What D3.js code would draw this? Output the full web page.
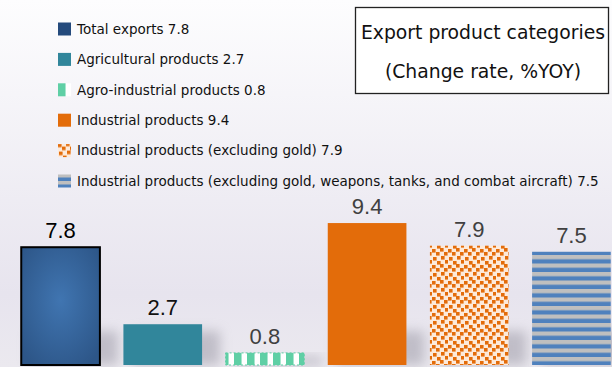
<!DOCTYPE html>
<html>
<head>
<meta charset="utf-8">
<script src="https://cdn.jsdelivr.net/npm/d3@7"></script>
<style>
  body { margin: 0; background: #fff; }
  svg { display: block; }
</style>
</head>
<body>
<div id="container"></div>
<script>
let w = 612;
let h = 367;

// data
let categories = [
  "Total exports",
  "Agricultural products",
  "Agro-industrial products",
  "Industrial products",
  "Industrial products (excluding gold)",
  "Industrial products (excluding gold, weapons, tanks, and combat aircraft)"
];
let values = [7.8, 2.7, 0.8, 9.4, 7.9, 7.5];
let titleLines = ["Export product categories", "(Change rate, %YOY)"];

let fills = ["url(#gradTotal)", "#31869b", "url(#patAgro)", "#e36c0a", "url(#patConfetti)", "url(#patStripes)"];
let swatchFills = ["#244a7c", "#31869b", "url(#patAgroSw)", "#e36c0a", "url(#patConfettiSw)", "url(#patStripesSw)"];
let labelColors = ["#000", "#111", "#404040", "#404040", "#404040", "#404040"];

let data = categories.map(function(c, i){
  return { name: c, value: values[i], fill: fills[i], swatch: swatchFills[i], labelColor: labelColors[i] };
});

let viz = d3.select("#container")
  .append("svg")
    .attr("width", w)
    .attr("height", h)
;

let defs = viz.append("defs");

// background gradient
let bg = defs.append("linearGradient").attr("id", "bgGrad")
  .attr("x1", 0).attr("y1", 0).attr("x2", 0).attr("y2", 1);
bg.append("stop").attr("offset", "0%").attr("stop-color", "#fdfdfe");
bg.append("stop").attr("offset", "80%").attr("stop-color", "#e7e4ee");
bg.append("stop").attr("offset", "100%").attr("stop-color", "#ebe9ef");

// total exports bar gradient
let rg = defs.append("radialGradient").attr("id", "gradTotal")
  .attr("cx", "50%").attr("cy", "45%").attr("r", "65%");
rg.append("stop").attr("offset", "0%").attr("stop-color", "#4075b1");
rg.append("stop").attr("offset", "100%").attr("stop-color", "#2d5688");

// agro-industrial pattern: teal blocks with white gaps
function agroPattern(id, pw, ph){
  let p = defs.append("pattern").attr("id", id)
    .attr("patternUnits", "userSpaceOnUse")
    .attr("width", pw).attr("height", ph);
  p.append("rect").attr("width", pw).attr("height", ph).attr("fill", "#ffffff");
  p.append("rect").attr("x", 0).attr("width", pw * 0.58).attr("height", ph).attr("fill", "#5fcfa5");
}
agroPattern("patAgro", 13, 40);
agroPattern("patAgroSw", 13, 40);

// confetti pattern: scattered orange squares on peach
let confetti = [[1,1],[9,0],[5,5],[13,4],[0,9],[8,8],[4,12],[12,12]];
function confettiPattern(id){
  let p = defs.append("pattern").attr("id", id)
    .attr("patternUnits", "userSpaceOnUse")
    .attr("width", 16).attr("height", 16);
  p.append("rect").attr("width", 16).attr("height", 16).attr("fill", "#fdeada");
  p.selectAll("rect.sq").data(confetti).enter()
    .append("rect").attr("class", "sq")
    .attr("x", function(d){ return d[0]; })
    .attr("y", function(d){ return d[1]; })
    .attr("width", 3.6).attr("height", 3.6)
    .attr("fill", "#e36c0a");
}
confettiPattern("patConfetti");
confettiPattern("patConfettiSw");

// stripes pattern: blue and gray horizontal bands
function stripePattern(id, ph){
  let p = defs.append("pattern").attr("id", id)
    .attr("patternUnits", "userSpaceOnUse")
    .attr("width", 10).attr("height", ph);
  p.append("rect").attr("width", 10).attr("height", ph).attr("fill", "#bfbfbf");
  p.append("rect").attr("y", ph / 2).attr("width", 10).attr("height", ph / 2 + 0.3).attr("fill", "#4f81bd");
}
stripePattern("patStripes", 8.5);
stripePattern("patStripesSw", 7);

// soft shadow under bars
let blur = defs.append("filter").attr("id", "shadowBlur")
  .attr("x", "-50%").attr("y", "-50%").attr("width", "200%").attr("height", "200%");
blur.append("feGaussianBlur").attr("stdDeviation", 6);

viz.append("rect")
  .attr("x", 0).attr("y", 0)
  .attr("width", w).attr("height", h)
  .attr("fill", "url(#bgGrad)");

let baseline = 365;
let xScale = d3.scaleBand()
  .domain(categories)
  .range([10, 622])
  .paddingInner(0.23)
  .paddingOuter(0.11);
let yScale = d3.scaleLinear().domain([0, 10]).range([baseline, baseline - 151]);

let graphGroup = viz.append("g").attr("class", "graphGroup");

// shadows
graphGroup.selectAll(".shadow").data(data).enter()
  .append("rect")
    .attr("class", "shadow")
    .attr("x", function(d){ return xScale(d.name) + 8; })
    .attr("y", function(d){ return Math.max(yScale(d.value) + 4, baseline - 34); })
    .attr("width", xScale.bandwidth() + 10)
    .attr("height", function(d){ return baseline - Math.max(yScale(d.value) + 4, baseline - 34); })
    .attr("fill", "#9e9ba8")
    .attr("opacity", 0.55)
    .attr("filter", "url(#shadowBlur)")
;

// bars
graphGroup.selectAll(".bar").data(data).enter()
  .append("rect")
    .attr("class", "bar")
    .attr("x", function(d){ return xScale(d.name); })
    .attr("y", function(d){ return yScale(d.value); })
    .attr("width", xScale.bandwidth())
    .attr("height", function(d){ return baseline - yScale(d.value); })
    .attr("fill", function(d){ return d.fill; })
    .attr("stroke", function(d, i){ return i === 0 ? "#000" : (i === 2 ? "#5fcfa5" : "none"); })
    .attr("stroke-width", function(d, i){ return i === 0 ? 2 : 1; })
    .attr("stroke-dasharray", function(d, i){ return i === 2 ? "2,2" : null; })
;

// value labels
graphGroup.selectAll(".valueLabel").data(data).enter()
  .append("text")
    .attr("class", "valueLabel")
    .attr("x", function(d){ return xScale(d.name) + xScale.bandwidth() / 2; })
    .attr("y", function(d){ return yScale(d.value) - 9; })
    .attr("text-anchor", "middle")
    .attr("font-family", "Liberation Sans, Arial, sans-serif")
    .attr("font-size", 22)
    .attr("fill", function(d){ return d.labelColor; })
    .text(function(d){ return d3.format(".1f")(d.value); })
;

// legend
let legendFont = "'DejaVu Sans', sans-serif";
let legendY = d3.scalePoint().domain(categories).range([29, 181]);
let legend = viz.append("g").attr("class", "legend");
let rows = legend.selectAll(".row").data(data).enter()
  .append("g")
    .attr("class", "row")
    .attr("transform", function(d){ return "translate(58," + legendY(d.name) + ")"; })
;
rows.append("rect")
  .attr("x", 0).attr("y", -6.5)
  .attr("width", 13).attr("height", 13)
  .attr("fill", function(d){ return d.swatch; });
rows.append("text")
  .attr("x", 19).attr("y", 0)
  .attr("dy", "0.36em")
  .attr("font-family", legendFont)
  .attr("font-size", 13.5)
  .attr("fill", "#111")
  .text(function(d){ return d.name + " " + d.value; });

// title box
let titleGroup = viz.append("g").attr("class", "title");
titleGroup.append("rect")
  .attr("x", 355.5).attr("y", 7.5)
  .attr("width", 253).attr("height", 86)
  .attr("fill", "#fff")
  .attr("stroke", "#222")
  .attr("stroke-width", 1.3);
titleGroup.selectAll("text").data(titleLines).enter()
  .append("text")
    .attr("x", 483)
    .attr("y", function(d, i){ return 32 + i * 39; })
    .attr("dy", "0.36em")
    .attr("text-anchor", "middle")
    .attr("font-family", legendFont)
    .attr("font-size", 18.8)
    .attr("fill", "#111")
    .text(function(d){ return d; });
</script>
</body>
</html>
